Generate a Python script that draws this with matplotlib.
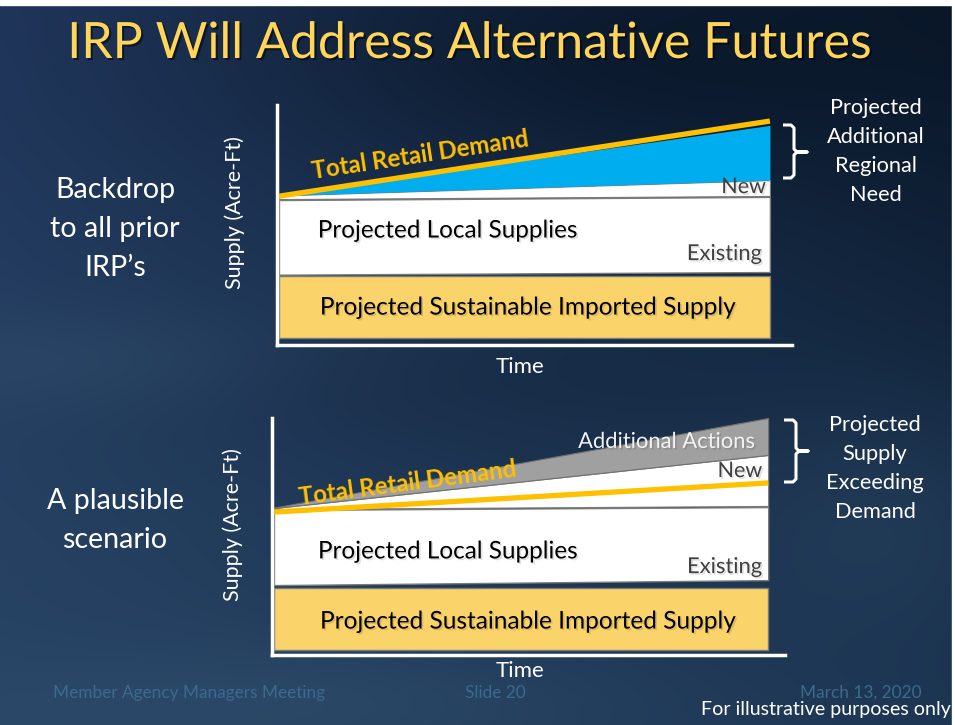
import numpy as np
import matplotlib
matplotlib.use("Agg")
import matplotlib.pyplot as plt
from matplotlib.path import Path
from matplotlib.patches import PathPatch, Rectangle
import matplotlib.patheffects as pe

plt.rcParams['font.family'] = ['Lato', 'DejaVu Sans']

# ---------------- data ----------------
time = [0.0, 1.0]

# Top scenario: backdrop to all prior IRP's
top_imported_lo = [2.9, 2.9]
top_imported_hi = [28.7, 28.7]
top_existing_lo = [29.3, 30.4]
top_existing_hi = [60.4, 61.7]
top_new_lo = [60.8, 62.1]
top_new_hi = [62.3, 68.7]
top_need_hi = [62.6, 91.5]
top_demand = [62.0, 93.3]

# Bottom scenario: a plausible scenario
bot_imported_lo = [2.1, 2.1]
bot_imported_hi = [28.3, 28.3]
bot_existing_lo = [29.5, 31.6]
bot_existing_hi = [61.2, 62.4]
bot_new_lo = [61.6, 62.9]
bot_new_hi = [62.0, 84.4]
bot_actions_hi = [62.2, 100.0]
bot_demand = [60.3, 72.6]

W, H = 955, 725
fig = plt.figure(figsize=(W / 100, H / 100), dpi=100)

def fx(x):
    return x / W

def fy(y):
    return 1 - y / H

# ---------------- background ----------------
bg = fig.add_axes([0, 0, 1, 1])
bg.set_axis_off()
yy, xx = np.mgrid[0:H, 0:W]
u = xx / W
v = yy / H
tl = np.array([0x1f, 0x35, 0x5a]) / 255
tr = np.array([0x0a, 0x18, 0x2a]) / 255
bl = np.array([0x28, 0x45, 0x65]) / 255
br = np.array([0x1c, 0x35, 0x52]) / 255
img = ((1 - u)[..., None] * (1 - v)[..., None] * tl + u[..., None] * (1 - v)[..., None] * tr
       + (1 - u)[..., None] * v[..., None] * bl + u[..., None] * v[..., None] * br)

def blob(cx, cy, sx, sy, col, a):
    g = np.exp(-(((xx - cx) / sx) ** 2 + ((yy - cy) / sy) ** 2))[..., None] * a
    return g, np.array(col) / 255

for cx, cy, sx, sy, col, a in [
    (650, 60, 350, 110, (0x06, 0x12, 0x22), 0.55),
    (450, 380, 300, 60, (0x12, 0x24, 0x3c), 0.35),
    (80, 360, 260, 60, (0x3a, 0x58, 0x78), 0.30),
    (300, 700, 320, 60, (0x3a, 0x5a, 0x7a), 0.30),
    (880, 520, 160, 120, (0x33, 0x52, 0x72), 0.30),
]:
    g, c = blob(cx, cy, sx, sy, col, a)
    img = img * (1 - g) + c * g
img = np.clip(img, 0, 1)
bg.imshow(img, extent=[0, 1, 0, 1], aspect='auto', zorder=0)
bg.set_xlim(0, 1)
bg.set_ylim(0, 1)
# white margins of the captured slide
bg.add_patch(Rectangle((0, fy(5)), 1, 1, color='white', transform=fig.transFigure, zorder=1))
bg.add_patch(Rectangle((fx(952), 0), 1, 1, color='white', transform=fig.transFigure, zorder=1))

# ---------------- title ----------------
title = fig.text(fx(470), fy(44), "IRP Will Address Alternative Futures",
                 ha='center', va='center', color='#FFD65A', fontsize=38,
                 family=['Liberation Sans Narrow', 'Lato', 'DejaVu Sans'],
                 path_effects=[pe.SimplePatchShadow(offset=(1.5, -1.5), shadow_rgbFace='black', alpha=0.5), pe.Normal()])
fig.canvas.draw()
r = fig.canvas.get_renderer()
w = title.get_window_extent(r).width
title.set_fontsize(38 * 805 / w)

YELLOW = '#FAD36A'
BLUE = '#00AEEF'
GRAY = '#A0A0A0'
ORANGE = '#FFC000'
EDGE = '#7a7a7a'
SH = [pe.SimplePatchShadow(offset=(1.2, -1.2), shadow_rgbFace='black', alpha=0.12), pe.Normal()]

def style_axes(ax, xlim):
    ax.set_xlim(*xlim)
    ax.set_ylim(0, 100)
    ax.patch.set_alpha(0)
    for s in ['top', 'right']:
        ax.spines[s].set_visible(False)
    for s in ['left', 'bottom']:
        ax.spines[s].set_color('white')
        ax.spines[s].set_linewidth(2.5)
    ax.set_xticks([])
    ax.set_yticks([])

# ---------------- top chart ----------------
ax1 = fig.add_axes([fx(277), fy(345), (792 - 277) / W, (345 - 105) / H])
style_axes(ax1, (-0.004, 1.045))
ax1.fill_between(time, top_imported_lo, top_imported_hi, color=YELLOW, ec=EDGE, lw=1, zorder=2)
ax1.fill_between(time, top_existing_lo, top_existing_hi, color='white', ec=EDGE, lw=1, zorder=2)
ax1.fill_between(time, top_new_lo, top_new_hi, color='white', ec=EDGE, lw=0.8, zorder=2)
ax1.fill_between(time, top_new_hi, top_need_hi, color=BLUE, lw=0, zorder=2)
ax1.plot(time, top_demand, color=ORANGE, lw=3.8, solid_capstyle='butt', zorder=4)

ax1.text(0.287, 79.2, "Total Retail Demand", color=ORANGE, fontweight='bold', fontsize=17.3,
         rotation=8.6, rotation_mode='anchor', ha='center', va='center', zorder=5)
ax1.text(0.992, 65.8, "New", color='#404040', fontsize=15.5, ha='right', va='center', zorder=5, path_effects=SH)
ax1.text(0.079, 47.5, "Projected Local Supplies", color='black', fontsize=17.5, ha='left', va='center',
         zorder=5, path_effects=SH)
ax1.text(0.984, 37.9, "Existing", color='#404040', fontsize=15.8, ha='right', va='center', zorder=5, path_effects=SH)
ax1.text(0.507, 15.4, "Projected Sustainable Imported Supply", color='black', fontsize=17.6,
         ha='center', va='center', zorder=5, path_effects=SH)
ax1.text(-0.0816, 0.55, "Supply (Acre-Ft)", transform=ax1.transAxes, rotation=90, color='white',
         fontsize=15.5, ha='center', va='center')
ax1.text(0.472, -0.092, "Time", transform=ax1.transAxes, color='white', fontsize=16,
         ha='center', va='center')

# ---------------- bottom chart ----------------
ax2 = fig.add_axes([fx(272), fy(655), (785 - 272) / W, (655 - 418) / H])
style_axes(ax2, (-0.004, 1.034))
ax2.fill_between(time, bot_imported_lo, bot_imported_hi, color=YELLOW, ec=EDGE, lw=1, zorder=2)
ax2.fill_between(time, bot_existing_lo, bot_existing_hi, color='white', ec=EDGE, lw=1, zorder=2)
ax2.fill_between(time, bot_new_lo, bot_new_hi, color='white', ec=EDGE, lw=0.8, zorder=2)
ax2.fill_between(time, bot_new_hi, bot_actions_hi, color=GRAY, ec='#707070', lw=0.8, zorder=2)
ax2.plot(time, bot_demand, color=ORANGE, lw=3.8, solid_capstyle='butt', zorder=4)

ax2.text(0.271, 72.6, "Total Retail Demand", color=ORANGE, fontweight='bold', fontsize=17.3,
         rotation=7.5, rotation_mode='anchor', ha='center', va='center', zorder=5)
ax2.text(0.988, 77.6, "New", color='#404040', fontsize=15.5, ha='right', va='center', zorder=5, path_effects=SH)
ax2.text(0.974, 89.9, "Additional Actions", color='#F2F2F2', fontsize=15.8, ha='right', va='center', zorder=5,
         path_effects=SH)
ax2.text(0.089, 43.5, "Projected Local Supplies", color='black', fontsize=17.5, ha='left', va='center',
         zorder=5, path_effects=SH)
ax2.text(0.988, 37.1, "Existing", color='#404040', fontsize=15.8, ha='right', va='center', zorder=5, path_effects=SH)
ax2.text(0.514, 13.9, "Projected Sustainable Imported Supply", color='black', fontsize=17.6,
         ha='center', va='center', zorder=5, path_effects=SH)
ax2.text(-0.076, 0.549, "Supply (Acre-Ft)", transform=ax2.transAxes, rotation=90, color='white',
         fontsize=15.5, ha='center', va='center')
ax2.text(0.483, -0.068, "Time", transform=ax2.transAxes, color='white', fontsize=16,
         ha='center', va='center')

# ---------------- brackets ----------------
def bracket(x0, xv, xt, y0, ym, y1):
    r = 3
    pts = [(x0, y0), (xv - r, y0), (xv, y0 + r), (xv, ym - r), (xv + r, ym), (xt, ym),
           (xv + r, ym), (xv, ym + r), (xv, y1 - r), (xv - r, y1), (x0, y1)]
    verts = [(fx(a), fy(b)) for a, b in pts]
    codes = [Path.MOVETO] + [Path.LINETO] * (len(verts) - 1)
    fig.add_artist(PathPatch(Path(verts, codes), fill=False, ec='white', lw=2.2,
                             transform=fig.transFigure, capstyle='butt', joinstyle='round'))

bracket(783, 794, 807, 125, 152, 178)
bracket(784, 796, 808, 420, 451, 482)

# ---------------- side texts ----------------
for txt, y in zip(["Projected", "Additional", "Regional", "Need"], [108, 137, 166, 195]):
    fig.text(fx(876), fy(y), txt, color='white', fontsize=15.7, ha='center', va='center')
for txt, y in zip(["Projected", "Supply", "Exceeding", "Demand"], [425, 454, 483, 512]):
    fig.text(fx(875), fy(y), txt, color='white', fontsize=15.7, ha='center', va='center')
for txt, y in zip(["Backdrop", "to all prior", "IRP\u2019s"], [190, 229, 268]):
    fig.text(fx(115), fy(y), txt, color='white', fontsize=20.6, ha='center', va='center')
for txt, y in zip(["A plausible", "scenario"], [501, 540]):
    fig.text(fx(115), fy(y), txt, color='white', fontsize=20.6, ha='center', va='center')

# ---------------- footer ----------------
FOOT = '#3a6a8e'
fig.text(fx(53), fy(693), "Member Agency Managers Meeting", color=FOOT, fontsize=12.4, ha='left', va='center')
fig.text(fx(495), fy(693), "Slide 20", color=FOOT, fontsize=12.4, ha='center', va='center')
fig.text(fx(922), fy(693), "March 13, 2020", color=FOOT, fontsize=12.4, ha='right', va='center')
fig.text(fx(951), fy(709), "For illustrative purposes only", color='white', fontsize=14.1, ha='right', va='center')

fig.savefig("out.png", dpi=100)
